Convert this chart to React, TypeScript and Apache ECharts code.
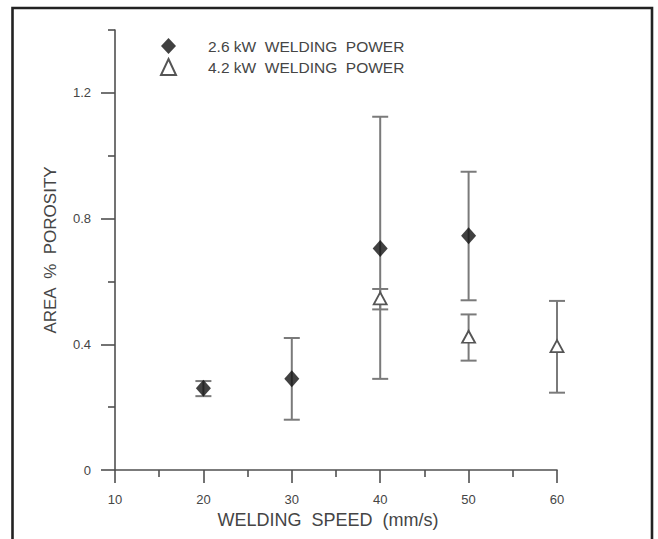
import React, { useEffect, useRef } from "react";
import * as echarts from "echarts";

const seriesLowName = "2.6 kW  WELDING  POWER";
const seriesHighName = "4.2 kW  WELDING  POWER";

const speedsLow = [20, 30, 40, 50];
const porosityLow = [0.26, 0.29, 0.705, 0.745];
const lowErrMin = [0.235, 0.16, 0.29, 0.54];
const lowErrMax = [0.283, 0.42, 1.124, 0.949];

const speedsHigh = [40, 50, 60];
const porosityHigh = [0.546, 0.424, 0.394];
const highErrMin = [0.511, 0.348, 0.246];
const highErrMax = [0.576, 0.495, 0.538];

const xMin = 10;
const xMax = 60;
const xInterval = 10;
const yMajorTicks = [0, 0.4, 0.8, 1.2];
const yMinorTicks = [0.2, 0.6, 1.0, 1.4];
const yMin = 0;
const yMax = 1.4;

const FONT = "'Liberation Sans', Arial, sans-serif";
const AXIS = "#505050";
const TEXT = "#454545";
const ERR = "#7a7a7a";

function errorRender(params: any, api: any) {
  const x = api.value(0);
  const lo = api.value(1);
  const hi = api.value(2);
  const pLo = api.coord([x, lo]);
  const pHi = api.coord([x, hi]);
  const hw = 8;
  const style = { stroke: ERR, lineWidth: 2 };
  return {
    type: "group",
    children: [
      { type: "line", shape: { x1: pLo[0], y1: pLo[1], x2: pHi[0], y2: pHi[1] }, style },
      { type: "line", shape: { x1: pLo[0] - hw, y1: pLo[1], x2: pLo[0] + hw, y2: pLo[1] }, style },
      { type: "line", shape: { x1: pHi[0] - hw, y1: pHi[1], x2: pHi[0] + hw, y2: pHi[1] }, style },
    ],
  };
}

export default function App() {
  const ref = useRef<HTMLDivElement>(null);
  useEffect(() => {
    if (!ref.current) return;
    const chart = echarts.init(ref.current, undefined, { renderer: "svg" });
    const lowErr = speedsLow.map((s, i) => [s, lowErrMin[i], lowErrMax[i]]);
    const highErr = speedsHigh.map((s, i) => [s, highErrMin[i], highErrMax[i]]);
    const lowPts = speedsLow.map((s, i) => [s, porosityLow[i]]);
    const highPts = speedsHigh.map((s, i) => [s, porosityHigh[i]]);
    chart.setOption({
      animation: false,
      backgroundColor: "#ffffff",
      textStyle: { fontFamily: FONT },
      grid: { left: 115, right: 101, top: 30, bottom: 69, containLabel: false },
      legend: {
        orient: "vertical",
        left: 155,
        top: 33,
        itemWidth: 15,
        itemHeight: 16,
        itemGap: 4,
        data: [seriesLowName, seriesHighName],
        textStyle: { fontSize: 15.5, color: TEXT, fontFamily: FONT, padding: [0, 0, 0, 27] },
      },
      xAxis: {
        type: "value",
        min: xMin,
        max: xMax,
        interval: xInterval,
        name: "WELDING  SPEED  (mm/s)",
        nameLocation: "middle",
        nameGap: 40,
        nameTextStyle: { fontSize: 18, color: TEXT, fontFamily: FONT, padding: [0, 16, 0, 0] },
        axisLine: { show: true, onZero: false, lineStyle: { color: AXIS, width: 1.6 } },
        axisTick: { show: true, length: 13, lineStyle: { color: AXIS, width: 1.6 } },
        minorTick: { show: true, splitNumber: 2, length: 7, lineStyle: { color: AXIS, width: 1.6 } },
        axisLabel: { fontSize: 13, color: TEXT, margin: 23, fontFamily: FONT },
        splitLine: { show: false },
      },
      yAxis: [
        {
          type: "value",
          min: yMin,
          max: yMax,
          name: "AREA  %  POROSITY",
          nameLocation: "middle",
          nameGap: 56,
          nameRotate: 90,
          nameTextStyle: { fontSize: 17, color: TEXT, fontFamily: FONT },
          axisLine: { show: true, onZero: false, lineStyle: { color: AXIS, width: 1.6 } },
          axisTick: { show: true, length: 14, customValues: yMajorTicks, lineStyle: { color: AXIS, width: 1.6 } },
          axisLabel: { fontSize: 13, color: TEXT, margin: 24, customValues: yMajorTicks, fontFamily: FONT },
          splitLine: { show: false },
        },
        {
          type: "value",
          min: yMin,
          max: yMax,
          position: "left",
          axisLine: { show: false },
          axisTick: { show: true, length: 7, customValues: yMinorTicks, lineStyle: { color: AXIS, width: 1.6 } },
          axisLabel: { show: false },
          splitLine: { show: false },
        },
      ],
      graphic: [
        {
          type: "polyline",
          shape: { points: [[12.5, 539], [12.5, 8], [652, 8], [652, 539]] },
          style: { stroke: "#222", lineWidth: 2.6, fill: null },
          z: 100,
        },
      ],
      series: [
        {
          type: "custom",
          name: "errLow",
          renderItem: errorRender,
          data: lowErr,
          encode: { x: 0, y: [1, 2] },
          z: 1,
          silent: true,
        },
        {
          type: "custom",
          name: "errHigh",
          renderItem: errorRender,
          data: highErr,
          encode: { x: 0, y: [1, 2] },
          z: 1,
          silent: true,
        },
        {
          type: "scatter",
          name: seriesLowName,
          data: lowPts,
          symbol: "diamond",
          symbolSize: [15, 17],
          itemStyle: { color: "#111111" },
          z: 5,
        },
        {
          type: "scatter",
          name: seriesHighName,
          data: highPts,
          symbol: "triangle",
          symbolSize: [13, 12],
          itemStyle: { color: "#ffffff", borderColor: "#555555", borderWidth: 1.8, opacity: 1 },
          z: 5,
        },
      ],
    });
    return () => chart.dispose();
  }, []);
  return (
    <div
      ref={ref}
      style={{ position: "absolute", left: 0, top: 0, width: 658, height: 539 }}
    />
  );
}
